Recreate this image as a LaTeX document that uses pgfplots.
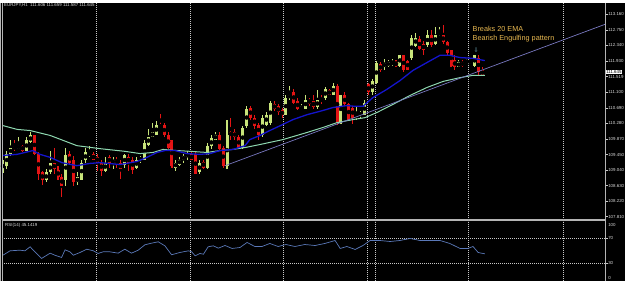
\documentclass[border=0pt]{standalone}
\usepackage{fontspec}
\setmainfont{Liberation Sans}
\newfontfamily\dejavu{DejaVu Sans}
\usepackage{pgfplots}
\usepackage{pgfplotstable}
\pgfplotsset{compat=1.18}
\definecolor{bull}{HTML}{C8E47A}
\definecolor{bear}{HTML}{E41414}
\definecolor{emablue}{HTML}{1414CC}
\definecolor{smagreen}{HTML}{8ED8B0}
\definecolor{trendc}{HTML}{7878C0}
\definecolor{rsic}{HTML}{5A78B8}
\definecolor{gridc}{HTML}{C8C8C8}
\definecolor{framec}{HTML}{B4B4B4}
\definecolor{lab}{HTML}{D8D8D8}
\definecolor{anno}{HTML}{E8B850}
\definecolor{arrowc}{HTML}{78B8C8}

\pgfplotstableread{
x o h l c
0 109.06 109.32 108.98 109.24
1 109.16 109.56 109.06 109.46
2 109.46 109.85 109.43 109.64
4 109.61 109.91 109.59 109.69
6 109.56 109.91 109.56 109.83
7 109.80 110.04 109.77 109.96
11 108.77 109.06 108.72 108.98
12 108.98 109.56 108.93 109.24
16 108.79 109.64 108.63 109.43
19 108.72 108.98 108.66 108.85
20 108.79 109.32 108.77 109.24
21 109.30 109.64 109.24 109.51
22 109.46 109.69 109.38 109.48
26 109.03 109.38 108.98 109.24
28 109.24 109.38 109.06 109.30
31 109.19 109.46 109.11 109.43
34 109.11 109.38 109.06 109.32
35 109.30 109.43 109.24 109.35
36 109.32 109.85 109.30 109.77
37 109.72 110.12 109.69 109.93
38 109.93 110.30 109.91 110.04
39 109.98 110.33 109.96 110.25
44 109.11 109.30 109.03 109.24
45 109.19 109.38 109.16 109.32
46 109.30 109.46 109.24 109.43
47 109.40 109.56 109.32 109.48
50 108.98 109.30 108.93 109.24
52 109.11 109.77 109.06 109.69
53 109.67 109.96 109.59 109.88
54 109.85 110.04 109.83 109.98
57 109.16 110.38 109.06 109.98
61 109.64 110.22 109.59 110.17
62 110.22 110.75 110.17 110.65
66 109.96 110.49 109.91 110.43
67 110.25 110.57 110.22 110.51
68 110.30 110.88 110.25 110.83
72 110.51 111.02 110.49 110.96
73 110.96 111.28 110.91 111.04
76 110.65 110.78 110.62 110.73
77 110.67 111.04 110.65 110.91
80 110.70 111.15 110.65 110.91
82 110.96 111.23 110.91 111.18
84 111.04 111.36 111.02 111.28
86 110.30 111.04 110.25 111.02
90 110.43 110.70 110.38 110.51
91 110.49 110.62 110.43 110.54
92 110.51 110.91 110.51 110.83
94 111.10 111.44 111.04 111.41
95 111.36 111.94 111.31 111.89
97 111.76 111.97 111.70 111.89
98 111.81 111.97 111.78 111.89
99 111.86 111.97 111.81 111.89
101 111.81 112.10 111.76 112.08
104 112.02 112.63 111.97 112.55
105 112.34 112.68 112.29 112.55
108 112.34 112.74 112.29 112.63
110 112.37 112.82 112.34 112.63
111 112.63 112.82 112.60 112.68
116 111.78 111.97 111.76 111.89
118 111.89 111.97 111.84 111.94
119 111.89 112.00 111.84 111.94
120 111.81 112.10 111.76 112.08
123 111.606 111.659 111.587 111.645
}\bull

\pgfplotstableread{
x o h l c
3 109.69 109.85 109.56 109.59
5 109.69 109.72 109.51 109.56
8 109.96 109.98 109.43 109.46
9 109.46 109.51 108.79 108.93
10 108.98 109.03 108.66 108.77
13 109.24 109.64 108.93 109.06
14 109.06 109.16 108.77 108.85
15 108.85 108.93 108.32 108.63
17 109.46 109.56 109.19 109.24
18 109.32 109.43 108.63 108.72
23 109.46 109.51 109.30 109.32
24 109.40 109.46 109.03 109.24
25 109.24 109.30 108.90 109.03
27 109.38 109.43 109.11 109.24
29 109.32 109.38 109.11 109.24
30 109.24 109.30 108.82 109.06
32 109.38 109.46 109.03 109.24
33 109.32 109.38 108.93 109.06
40 110.22 110.54 110.17 110.19
41 110.25 110.30 109.91 109.96
42 109.96 110.04 109.59 109.64
43 109.83 109.85 109.11 109.16
48 109.46 109.51 109.30 109.32
49 109.48 109.56 108.93 108.95
51 109.27 109.30 109.06 109.11
55 109.98 110.04 109.56 109.59
56 109.64 109.69 109.11 109.16
58 110.04 110.43 109.83 109.96
59 110.06 110.12 109.85 109.91
60 109.91 109.96 109.59 109.64
63 110.70 110.75 110.36 110.43
64 110.43 110.49 110.12 110.22
65 110.25 110.30 109.85 109.96
69 110.80 110.86 110.62 110.65
70 110.73 110.78 110.51 110.57
71 110.62 110.70 110.43 110.49
74 111.10 111.18 110.78 110.83
75 110.88 110.96 110.62 110.65
78 110.91 110.96 110.75 110.80
79 110.88 111.02 110.65 110.70
81 110.96 111.02 110.78 110.86
83 111.15 111.18 111.02 111.04
85 111.28 111.31 110.25 110.30
87 111.02 111.10 110.75 110.78
88 110.78 110.83 110.36 110.38
89 110.70 110.75 110.25 110.43
93 111.31 111.36 111.04 111.10
96 111.84 111.89 111.63 111.68
100 111.89 111.97 111.76 111.81
102 112.08 112.10 111.65 111.68
103 111.94 111.97 111.68 111.70
106 112.50 112.60 112.23 112.26
107 112.37 112.47 112.10 112.23
109 112.63 112.74 112.29 112.34
112 112.63 112.87 112.37 112.42
113 112.42 112.47 112.10 112.15
114 112.21 112.23 111.76 111.81
115 111.97 112.08 111.70 111.76
117 111.89 111.97 111.76 111.81
121 112.02 112.10 111.57 111.63
122 111.68 111.76 111.55 111.57
}\bear

\pgfplotsset{
  wick/.style={only marks, mark=none, error bars/.cd, y dir=both, y explicit,
    error mark=none, error bar style={draw=#1, line width=1.05bp}},
  body/.style={only marks, mark=none, error bars/.cd, y dir=both, y explicit,
    error mark=none, error bar style={draw=#1, line width=3.0bp}},
}

\begin{document}
\begin{tikzpicture}
\fill[black] (0bp,0bp) rectangle (625bp,278bp);
\draw[framec, line width=0.6bp] (0.6bp,0bp) -- (0.6bp,278bp);
\begin{axis}[
  at={(2bp,61bp)}, anchor=south west,
  x=3.93bp, y=37.8bp,
  xmin=-0.254, xmax=153.18, ymin=107.736, ymax=113.477,
  axis line style={draw=none},
  clip mode=individual,
  xtick={23.66,47.58,71.25,92.6,94.66,118.3,142.5}, xticklabels={},
  xmajorgrids, xtick style={draw=none},
  x grid style={gridc, line width=0.6bp, dash pattern=on 1bp off 1bp},
  ytick={107.81,108.22,108.63,109.04,109.45,109.87,110.28,110.69,111.10,111.519,111.93,112.34,112.75,113.16},
  yticklabels={107.810,108.220,108.630,109.040,109.450,109.870,110.280,110.690,111.100,111.519,111.930,112.340,112.750,113.160},
  ytick pos=right, yticklabel pos=right,
  tick align=outside, major tick length=2.5bp,
  ytick style={gridc, line width=0.5bp},
  yticklabel style={font=\fontsize{4.4}{5}\selectfont, text=lab, inner sep=0.6bp},
]
\addplot[wick=bull] table[x=x, y expr={(\thisrow{h}+\thisrow{l})/2}, y error expr={(\thisrow{h}-\thisrow{l})/2}] {\bull};
\addplot[body=bull] table[x=x, y expr={(\thisrow{o}+\thisrow{c})/2}, y error expr={abs(\thisrow{c}-\thisrow{o})/2}] {\bull};
\addplot[wick=bear] table[x=x, y expr={(\thisrow{h}+\thisrow{l})/2}, y error expr={(\thisrow{h}-\thisrow{l})/2}] {\bear};
\addplot[body=bear] table[x=x, y expr={(\thisrow{o}+\thisrow{c})/2}, y error expr={abs(\thisrow{c}-\thisrow{o})/2}] {\bear};
% 50 MA
\addplot[smagreen, line width=1.0bp] coordinates {
(0,110.22) (3.6,110.12) (6.9,110.09) (12,109.96) (18.8,109.69) (24.7,109.61)
(31,109.54) (34.9,109.48) (38.2,109.51) (40.7,109.59) (44.3,109.56) (47.6,109.54)
(51.9,109.51) (55.2,109.56) (58.5,109.59) (61.6,109.64) (65.4,109.72) (71.2,109.85)
(77.4,110.04) (81.4,110.17) (85,110.30) (89.1,110.38) (92.1,110.43) (95.2,110.57)
(99.2,110.78) (103.6,111.02) (107.9,111.23) (112,111.39) (116.3,111.49) (119.6,111.55)
(122.6,111.55)};
% 20 EMA
\addplot[emablue, line width=1.3bp] coordinates {
(0,109.43) (3.6,109.46) (5.6,109.51) (7.6,109.56) (9.4,109.46) (12,109.38)
(15,109.24) (18.8,109.16) (22.1,109.22) (24.7,109.24) (29.8,109.19) (34.1,109.27)
(36.6,109.38) (39.2,109.51) (41.2,109.56) (43.8,109.56) (46.8,109.48) (50.1,109.46)
(52.7,109.48) (55.2,109.56) (58.5,109.59) (61.6,109.69) (62.8,109.85) (65.4,109.96)
(67.9,110.09) (71.2,110.25) (73.8,110.38) (77.4,110.51) (81.4,110.62) (84,110.70)
(87.5,110.75) (89.6,110.73) (91.6,110.73) (94.1,110.96) (97.7,111.18) (101,111.41)
(104.3,111.68) (107.9,111.89) (111.2,112.08) (113.7,112.08) (116.3,112.02)
(119.6,112.00) (122.6,111.94)};
% trend line
\addplot[trendc, line width=0.7bp] coordinates {(56.5,109.16) (153.2,112.90)};
\draw[framec, line width=0.8bp] (rel axis cs:0,1) -- (rel axis cs:0,0) -- (rel axis cs:1,0) -- (rel axis cs:1,1);
\end{axis}

\begin{axis}[
  at={(2bp,0bp)}, anchor=south west,
  x=3.93bp, y=0.6173bp,
  xmin=-0.254, xmax=153.18, ymin=1.9, ymax=99.1,
  axis line style={draw=none},
  clip mode=individual,
  xtick={23.66,47.58,71.25,92.6,94.66,118.3,142.5}, xticklabels={},
  xmajorgrids, xtick style={draw=none},
  x grid style={gridc, line width=0.6bp, dash pattern=on 1bp off 1bp},
  ytick={30,70}, yticklabels={30,70}, ymajorgrids,
  y grid style={gridc, line width=0.6bp, dash pattern=on 1bp off 1bp},
  ytick pos=right, yticklabel pos=right,
  tick align=outside, major tick length=2.5bp,
  ytick style={gridc, line width=0.5bp},
  yticklabel style={font=\fontsize{4.4}{5}\selectfont, text=lab, inner sep=0.6bp},
]
\addplot[rsic, line width=0.7bp] coordinates {
(0,42.9) (1.8,50.0) (4.3,51.0) (5.6,50.0) (6.9,56.5) (8.1,48.4) (9.8,37.6)
(12.0,46.2) (13.2,42.9) (14.9,39.2) (15.8,51.6) (17.0,48.4) (17.9,42.9) (19.6,47.3)
(21.3,52.6) (23.0,50.0) (24.2,45.7) (25.5,48.4) (27.2,48.4) (29.3,46.2) (31.0,52.6)
(32.7,46.2) (34.4,51.0) (36.1,59.7) (37.8,62.4) (39.5,64.6) (41.2,58.1) (42.9,43.6)
(45.0,47.3) (47.2,50.0) (48.0,48.4) (48.9,41.9) (50.1,45.7) (51.0,44.5) (52.2,56.5)
(53.5,58.1) (54.8,54.3) (56.5,58.6) (58.3,53.8) (60.3,55.4) (62.1,63.5) (64.1,57.0)
(65.9,57.0) (67.9,61.9) (70.0,57.0) (72.0,60.2) (74.3,57.0) (76.8,60.2) (79.4,58.6)
(81.9,61.9) (84.5,66.7) (85.8,53.8) (87.5,57.0) (89.6,52.2) (91.6,58.6) (93.4,66.7)
(95.9,66.7) (98.5,65.1) (101,66.7) (103.6,70.0) (106.1,66.7) (108.7,66.7) (111.2,66.7)
(113.7,61.9) (116.3,53.8) (118.3,53.8) (119.6,57.0) (120.9,47.3) (122.6,45.1)};
\draw[framec, line width=0.8bp] (rel axis cs:0,0) -- (rel axis cs:0,1) -- (rel axis cs:1,1) -- (rel axis cs:1,0);
\end{axis}

% texts
\node[anchor=west, text=lab, font=\fontsize{4.4}{5}\selectfont, inner sep=0pt] at (4bp,275bp) {EURJPY,H1 \ 111.606 111.659 111.587 111.645};
\node[anchor=west, text=lab, font=\fontsize{4.4}{5}\selectfont, inner sep=0pt] at (5bp,55bp) {RSI(14) 45.1419};
\node[anchor=west, text=lab, font=\fontsize{4.4}{5}\selectfont, inner sep=0.6bp] at (607.5bp,56bp) {100};
\node[anchor=west, text=lab, font=\fontsize{4.4}{5}\selectfont, inner sep=0.6bp] at (607.5bp,3bp) {0};
\node[anchor=west, fill=white, text=black, font=\fontsize{4.4}{5}\selectfont, inner sep=0.7bp] at (605.4bp,208.75bp) {111.645};
\node[anchor=west, text=anno, font=\fontsize{7.3}{9}\selectfont, inner sep=0pt] at (472.5bp,251.5bp) {Breaks 20 EMA};
\node[anchor=west, text=anno, font=\fontsize{7.3}{9}\selectfont, inner sep=0pt] at (472.5bp,241.5bp) {Bearish Engulfing pattern};
\node[text=arrowc, font=\dejavu\fontsize{6}{7}\selectfont, inner sep=0pt] at (476bp,230bp) {⇩};
\end{tikzpicture}
\end{document}
